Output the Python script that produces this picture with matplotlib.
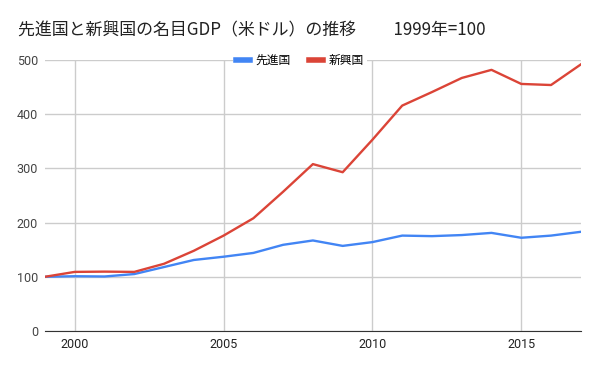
import matplotlib
matplotlib.use('Agg')
import matplotlib.pyplot as plt

plt.rcParams['font.family'] = ['Noto Sans CJK JP', 'DejaVu Sans']

YEARS = list(range(1999, 2018))
ADVANCED = [100, 101, 100.5, 105, 118, 131, 137, 144, 159, 167,
            157, 164, 176, 175, 177, 181, 172, 176, 183]
EMERGING = [100, 109, 109.5, 109, 124, 148, 176, 208, 257, 308,
            293, 353, 416, 441, 467, 482, 456, 454, 492]
LABELS = ['先進国', '新興国']
TITLE = '先進国と新興国の名目GDP（米ドル）の推移　　 1999年=100'

BLUE = '#4285f4'
RED = '#db4437'
GRID = '#cccccc'


def main():
  fig = plt.figure(figsize=(6, 3.71), dpi=100)
  ax = fig.add_axes([0.075, 0.108, 0.893, 0.73])

  ax.plot(YEARS, ADVANCED, color=BLUE, linewidth=1.7, label=LABELS[0])
  ax.plot(YEARS, EMERGING, color=RED, linewidth=1.7, label=LABELS[1])

  ax.set_xlim(1999, 2017)
  ax.set_ylim(0, 500)
  ax.set_xticks([2000, 2005, 2010, 2015])
  ax.set_yticks(range(0, 501, 100))
  ax.grid(color=GRID, linewidth=1)
  ax.set_axisbelow(True)
  for side in ('top', 'right', 'left'):
    ax.spines[side].set_visible(False)
  ax.spines['bottom'].set_color('#333333')
  ax.tick_params(length=0, labelsize=9)
  ax.tick_params(axis='x', colors='#222222', pad=5)
  ax.tick_params(axis='y', colors='#444444', pad=5)
  for lbl in ax.get_xticklabels() + ax.get_yticklabels():
    lbl.set_family(['Roboto', 'DejaVu Sans'])

  fig.text(0.03, 0.918, TITLE, fontsize=12.2, color='#222222', va='center')

  leg = fig.legend(loc='center', bbox_to_anchor=(0.5, 0.838), ncol=2,
                   fontsize=8.5, frameon=True, handlelength=1.2,
                   handleheight=0.5, columnspacing=1.5, borderpad=0.2,
                   handletextpad=0.5)
  leg.get_frame().set_facecolor('white')
  leg.get_frame().set_edgecolor('none')
  leg.get_frame().set_alpha(1)
  for line in leg.get_lines():
    line.set_linewidth(4)

  fig.savefig('out.png', dpi=100)
  plt.close(fig)


if __name__ == '__main__':
  main()
